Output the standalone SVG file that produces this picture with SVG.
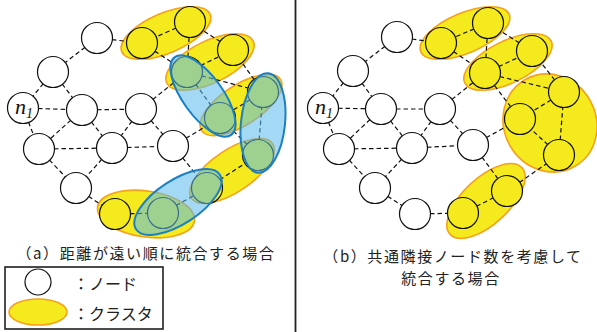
<svg xmlns="http://www.w3.org/2000/svg" width="597" height="332" viewBox="0 0 597 332">
<style>
.cl{fill:#f4ea1d;stroke:#f5a21b;stroke-width:1.6}
.bl{fill:#5bbcec;fill-opacity:0.56;stroke:#1b7fc4;stroke-width:2}
.e{stroke:#111;stroke-width:1.2;stroke-dasharray:4.5,3;fill:none}
.n{fill:#fff;stroke:#111;stroke-width:1.2}
.ny{fill:#f4ea1d;stroke:#111;stroke-width:1.2}
.t{font-family:"Noto Sans CJK JP","Noto Sans",sans-serif;font-size:16px;fill:#222}
.c{font-family:"Noto Sans CJK JP","Noto Sans",sans-serif;font-size:15px;letter-spacing:1.6px;fill:#222}
</style>
<rect width="597" height="332" fill="#fff"/>
<line x1="295.5" y1="0" x2="295.5" y2="332" stroke="#222" stroke-width="1.8"/>

<!-- LEFT PANEL -->
<g id="left-clusters">
<ellipse class="cl" cx="166" cy="33" rx="48" ry="20" transform="rotate(-23 166 33)"/>
<ellipse class="cl" cx="210" cy="62" rx="48" ry="21" transform="rotate(-26 210 62)"/>
<ellipse class="cl" cx="241" cy="105" rx="47" ry="20" transform="rotate(-33 241 105)"/>
<ellipse class="cl" cx="232" cy="171" rx="49" ry="21" transform="rotate(-34 232 171)"/>
<ellipse class="cl" cx="146" cy="214" rx="49" ry="23" transform="rotate(8 146 214)"/>
</g>
<g id="left-connectors">
<line class="e" x1="97" y1="38" x2="53" y2="72"/>
<line class="e" x1="97" y1="38" x2="142" y2="43"/>
<line class="e" x1="53" y1="72" x2="23" y2="108"/>
<line class="e" x1="53" y1="72" x2="82" y2="110"/>
<line class="e" x1="23" y1="108" x2="82" y2="110"/>
<line class="e" x1="23" y1="108" x2="39" y2="149"/>
<line class="e" x1="82" y1="110" x2="141" y2="109"/>
<line class="e" x1="82" y1="110" x2="39" y2="149"/>
<line class="e" x1="82" y1="110" x2="112" y2="148"/>
<line class="e" x1="141" y1="109" x2="112" y2="148"/>
<line class="e" x1="141" y1="109" x2="173" y2="146"/>
<line class="e" x1="141" y1="109" x2="187" y2="72"/>
<line class="e" x1="39" y1="149" x2="112" y2="148"/>
<line class="e" x1="39" y1="149" x2="76" y2="188"/>
<line class="e" x1="112" y1="148" x2="173" y2="146"/>
<line class="e" x1="112" y1="148" x2="76" y2="188"/>
<line class="e" x1="173" y1="146" x2="220" y2="118"/>
<line class="e" x1="173" y1="146" x2="207" y2="188"/>
<line class="e" x1="76" y1="188" x2="115" y2="214"/>
<line class="e" x1="115" y1="214" x2="163" y2="213"/>
<line class="e" x1="163" y1="213" x2="207" y2="188"/>
<line class="e" x1="207" y1="188" x2="258" y2="155"/>
<line class="e" x1="258" y1="155" x2="263" y2="92"/>
<line class="e" x1="258" y1="155" x2="220" y2="118"/>
<line class="e" x1="263" y1="92" x2="220" y2="118"/>
<line class="e" x1="263" y1="92" x2="233" y2="50"/>
<line class="e" x1="220" y1="118" x2="187" y2="72"/>
<line class="e" x1="187" y1="72" x2="263" y2="92"/>
<line class="e" x1="187" y1="72" x2="233" y2="50"/>
<line class="e" x1="187" y1="72" x2="190" y2="22"/>
<line class="e" x1="233" y1="50" x2="190" y2="22"/>
<line class="e" x1="190" y1="22" x2="142" y2="43"/>
<line class="e" x1="142" y1="43" x2="187" y2="72"/>
</g>
<g id="left-nodes">
<g id="La1"><circle class="n" cx="97" cy="38" r="15.5"/></g>
<g id="La2"><circle class="n" cx="53" cy="72" r="15.5"/></g>
<g id="La3"><circle class="n" cx="23" cy="108" r="15.5"/><text x="15" y="114" font-family="Liberation Serif,serif" font-style="italic" font-size="22" fill="#111">n<tspan font-size="14" dy="4">1</tspan></text></g>
<g id="La4"><circle class="n" cx="82" cy="110" r="15.5"/></g>
<g id="La5"><circle class="n" cx="141" cy="109" r="15.5"/></g>
<g id="La6"><circle class="n" cx="39" cy="149" r="15.5"/></g>
<g id="La7"><circle class="n" cx="112" cy="148" r="15.5"/></g>
<g id="La8"><circle class="n" cx="173" cy="146" r="15.5"/></g>
<g id="La9"><circle class="n" cx="76" cy="188" r="15.5"/></g>
<g id="La10"><circle class="ny" cx="115" cy="214" r="15.5"/></g>
<g id="La11"><circle class="ny" cx="163" cy="213" r="15.5"/></g>
<g id="La12"><circle class="ny" cx="207" cy="188" r="15.5"/></g>
<g id="La13"><circle class="ny" cx="258" cy="155" r="15.5"/></g>
<g id="La14"><circle class="ny" cx="263" cy="92" r="15.5"/></g>
<g id="La15"><circle class="ny" cx="220" cy="118" r="15.5"/></g>
<g id="La16"><circle class="ny" cx="187" cy="72" r="15.5"/></g>
<g id="La17"><circle class="ny" cx="233" cy="50" r="15.5"/></g>
<g id="La18"><circle class="ny" cx="190" cy="22" r="15.5"/></g>
<g id="La19"><circle class="ny" cx="142" cy="43" r="15.5"/></g>
</g>
<g id="left-blue-clusters">
<ellipse class="bl" cx="203" cy="96" rx="48" ry="20" transform="rotate(54 203 96)"/>
<ellipse class="bl" cx="263" cy="123" rx="50" ry="22" transform="rotate(96 263 123)"/>
<ellipse class="bl" cx="178" cy="202" rx="50" ry="22" transform="rotate(-33 178 202)"/>
</g>
<text class="c" x="146" y="259" text-anchor="middle">（a）距離が遠い順に統合する場合</text>

<!-- LEGEND -->
<g id="legend">
<rect x="5" y="267" width="158" height="62" fill="#fff" stroke="#111" stroke-width="1.5"/>
<g id="legend-node"><circle cx="38" cy="282" r="13" fill="#fff" stroke="#111" stroke-width="1.2"/><text class="t" x="73" y="290">：ノード</text></g>
<g id="legend-cluster"><ellipse class="cl" cx="38" cy="312" rx="29" ry="13"/><text class="t" x="73" y="320">：クラスタ</text></g>
</g>

<!-- RIGHT PANEL -->
<g id="right-clusters">
<ellipse class="cl" cx="465" cy="33" rx="48" ry="20" transform="rotate(-23 465 33)"/>
<ellipse class="cl" cx="508" cy="62" rx="48" ry="21" transform="rotate(-26 508 62)"/>
<ellipse class="cl" cx="550" cy="123" rx="50" ry="46" transform="rotate(60 550 123)"/>
<ellipse class="cl" cx="486" cy="201" rx="49" ry="23" transform="rotate(-43 486 201)"/>
</g>
<g id="right-connectors">
<line class="e" x1="397" y1="37" x2="353" y2="71"/>
<line class="e" x1="397" y1="37" x2="441" y2="43"/>
<line class="e" x1="353" y1="71" x2="323" y2="108"/>
<line class="e" x1="353" y1="71" x2="381" y2="109"/>
<line class="e" x1="323" y1="108" x2="381" y2="109"/>
<line class="e" x1="323" y1="108" x2="339" y2="149"/>
<line class="e" x1="381" y1="109" x2="440" y2="109"/>
<line class="e" x1="381" y1="109" x2="339" y2="149"/>
<line class="e" x1="381" y1="109" x2="412" y2="148"/>
<line class="e" x1="440" y1="109" x2="412" y2="148"/>
<line class="e" x1="440" y1="109" x2="473" y2="145"/>
<line class="e" x1="440" y1="109" x2="485" y2="73"/>
<line class="e" x1="339" y1="149" x2="412" y2="148"/>
<line class="e" x1="339" y1="149" x2="375" y2="188"/>
<line class="e" x1="412" y1="148" x2="473" y2="145"/>
<line class="e" x1="412" y1="148" x2="375" y2="188"/>
<line class="e" x1="473" y1="145" x2="520" y2="119"/>
<line class="e" x1="473" y1="145" x2="507" y2="191"/>
<line class="e" x1="375" y1="188" x2="415" y2="214"/>
<line class="e" x1="415" y1="214" x2="463" y2="213"/>
<line class="e" x1="463" y1="213" x2="507" y2="191"/>
<line class="e" x1="507" y1="191" x2="559" y2="155"/>
<line class="e" x1="559" y1="155" x2="564" y2="92"/>
<line class="e" x1="559" y1="155" x2="520" y2="119"/>
<line class="e" x1="564" y1="92" x2="520" y2="119"/>
<line class="e" x1="564" y1="92" x2="532" y2="51"/>
<line class="e" x1="520" y1="119" x2="485" y2="73"/>
<line class="e" x1="485" y1="73" x2="564" y2="92"/>
<line class="e" x1="485" y1="73" x2="532" y2="51"/>
<line class="e" x1="485" y1="73" x2="488" y2="23"/>
<line class="e" x1="532" y1="51" x2="488" y2="23"/>
<line class="e" x1="488" y1="23" x2="441" y2="43"/>
<line class="e" x1="441" y1="43" x2="485" y2="73"/>
</g>
<g id="right-nodes">
<g id="Rb1"><circle class="n" cx="397" cy="37" r="15.5"/></g>
<g id="Rb2"><circle class="n" cx="353" cy="71" r="15.5"/></g>
<g id="Rb3"><circle class="n" cx="323" cy="108" r="15.5"/><text x="315" y="114" font-family="Liberation Serif,serif" font-style="italic" font-size="22" fill="#111">n<tspan font-size="14" dy="4">1</tspan></text></g>
<g id="Rb4"><circle class="n" cx="381" cy="109" r="15.5"/></g>
<g id="Rb5"><circle class="n" cx="440" cy="109" r="15.5"/></g>
<g id="Rb6"><circle class="n" cx="339" cy="149" r="15.5"/></g>
<g id="Rb7"><circle class="n" cx="412" cy="148" r="15.5"/></g>
<g id="Rb8"><circle class="n" cx="473" cy="145" r="15.5"/></g>
<g id="Rb9"><circle class="n" cx="375" cy="188" r="15.5"/></g>
<g id="Rb10"><circle class="n" cx="415" cy="214" r="15.5"/></g>
<g id="Rb11"><circle class="ny" cx="463" cy="213" r="15.5"/></g>
<g id="Rb12"><circle class="ny" cx="507" cy="191" r="15.5"/></g>
<g id="Rb13"><circle class="ny" cx="559" cy="155" r="15.5"/></g>
<g id="Rb14"><circle class="ny" cx="564" cy="92" r="15.5"/></g>
<g id="Rb15"><circle class="ny" cx="520" cy="119" r="15.5"/></g>
<g id="Rb16"><circle class="ny" cx="485" cy="73" r="15.5"/></g>
<g id="Rb17"><circle class="ny" cx="532" cy="51" r="15.5"/></g>
<g id="Rb18"><circle class="ny" cx="488" cy="23" r="15.5"/></g>
<g id="Rb19"><circle class="ny" cx="441" cy="43" r="15.5"/></g>
</g>
<text class="c" x="453" y="262" text-anchor="middle">（b）共通隣接ノード数を考慮して</text>
<text class="c" x="451" y="284" text-anchor="middle">統合する場合</text>
</svg>
